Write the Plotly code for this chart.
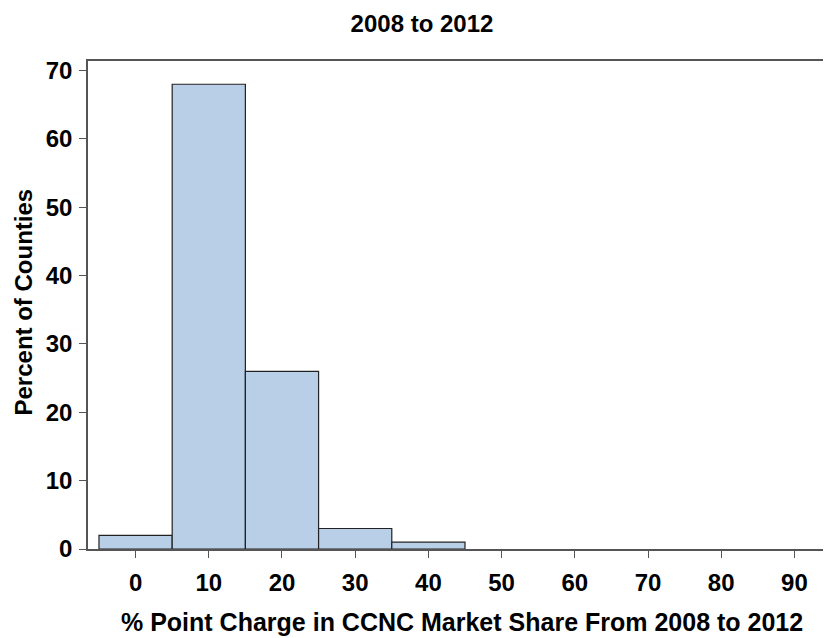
import plotly.graph_objects as go

bin_centers = [0, 10, 20, 30, 40]
percent_counties = [2, 68, 26, 3, 1]
x_ticks = [0, 10, 20, 30, 40, 50, 60, 70, 80, 90]
y_ticks = [0, 10, 20, 30, 40, 50, 60, 70]
bin_width = 10

FONT = "Liberation Sans, Arial, sans-serif"
FS = 24

fig = go.Figure(go.Bar(
    x=bin_centers,
    y=percent_counties,
    width=bin_width,
    marker=dict(color="#B9CFE7", line=dict(color="#222222", width=1.2)),
))

# page has an 8px body offset; margins compensate for it
L, R, T, B = 80, 8, 53, 97
W, H = 831, 638
pw = W - L - R
ph = H - T - B

fig.update_layout(
    width=W, height=H,
    margin=dict(l=L, r=R, t=T, b=B, autoexpand=False),
    paper_bgcolor="white", plot_bgcolor="white",
    showlegend=False,
    title=dict(text="2008 to 2012", x=414 / W, xanchor="center", xref="container",
               y=1 - 15.5 / H, yanchor="middle", yref="container",
               font=dict(family=FONT, size=FS, color="black", weight="bold")),
    font=dict(family=FONT, color="black"),
    annotations=[
        dict(text="% Point Charge in CCNC Market Share From 2008 to 2012",
             xref="paper", yref="paper", x=(453.5 - L) / pw, y=-73 / ph,
             xanchor="center", yanchor="middle", showarrow=False,
             font=dict(family=FONT, size=25, color="black", weight="bold")),
        dict(text="Percent of Counties", textangle=-90,
             xref="paper", yref="paper", x=(14.5 - L) / pw, y=(541 - 294) / ph,
             xanchor="center", yanchor="middle", showarrow=False,
             font=dict(family=FONT, size=FS, color="black", weight="bold")),
    ],
)

fig.update_xaxes(
    range=[-6.5, 95.0],
    tickvals=x_ticks,
    ticks="outside", ticklen=7, tickwidth=1.2, tickcolor="#555555",
    ticklabelstandoff=4,
    showline=True, linecolor="#555555", linewidth=1.5, mirror=True,
    showgrid=False, zeroline=False, automargin=False,
    tickfont=dict(family=FONT, size=FS, color="black", weight="bold"),
)
fig.update_yaxes(
    range=[0, 71.4],
    tickvals=y_ticks,
    ticks="outside", ticklen=7, tickwidth=1.2, tickcolor="#555555",
    ticklabelstandoff=2,
    showline=True, linecolor="#555555", linewidth=1.5,
    showgrid=False, zeroline=False, automargin=False,
    tickfont=dict(family=FONT, size=FS, color="black", weight="bold"),
)

fig.write_html("out.html")
